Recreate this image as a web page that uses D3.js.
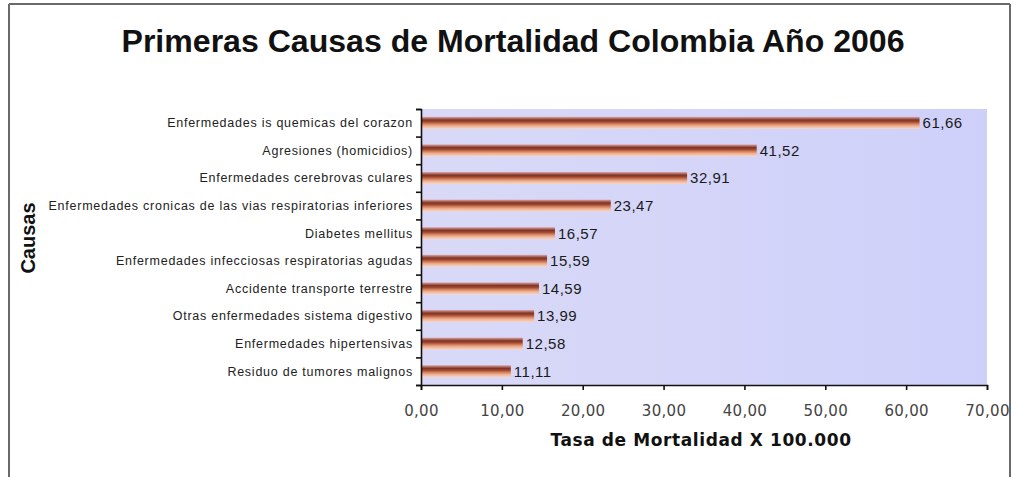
<!DOCTYPE html>
<html>
<head>
<meta charset="utf-8">
<script src="https://cdn.jsdelivr.net/npm/d3@7"></script>
<style>
  html, body { margin: 0; padding: 0; background: #fff; }
  svg { display: block; }
</style>
</head>
<body>
<div id="chart"></div>
<script>
const categories = [
  "Enfermedades is quemicas del corazon",
  "Agresiones (homicidios)",
  "Enfermedades cerebrovas culares",
  "Enfermedades cronicas de las vias respiratorias inferiores",
  "Diabetes mellitus",
  "Enfermedades infecciosas respiratorias agudas",
  "Accidente transporte terrestre",
  "Otras enfermedades sistema digestivo",
  "Enfermedades hipertensivas",
  "Residuo de tumores malignos"
];
const values = [61.66, 41.52, 32.91, 23.47, 16.57, 15.59, 14.59, 13.99, 12.58, 11.11];
const xTicks = [0, 10, 20, 30, 40, 50, 60, 70];
const title = "Primeras Causas de Mortalidad Colombia Año 2006";
const xTitle = "Tasa de Mortalidad X 100.000";
const yTitle = "Causas";

const W = 1013, H = 477;
const plot = { left: 421, right: 987, top: 109, bottom: 385 };

const svg = d3.select("#chart").append("svg").attr("width", W).attr("height", H);
const defs = svg.append("defs");

const bg = defs.append("linearGradient").attr("id", "bg").attr("x1", 0).attr("x2", 1).attr("y1", 0).attr("y2", 0);
bg.append("stop").attr("offset", 0).attr("stop-color", "#d9d9f7");
bg.append("stop").attr("offset", 1).attr("stop-color", "#cfd0fa");

const bar = defs.append("linearGradient").attr("id", "bar").attr("x1", 0).attr("x2", 0).attr("y1", 0).attr("y2", 1);
[[0, "#dcb0bc"], [0.12, "#b57468"], [0.27, "#7e3426"], [0.42, "#a0472f"], [0.58, "#d07c5a"], [0.76, "#edb194"], [1, "#f7d8c8"]]
  .forEach(([o, c]) => bar.append("stop").attr("offset", o).attr("stop-color", c));

// outer frame
svg.append("line").attr("x1", 9).attr("x2", 9).attr("y1", 4).attr("y2", H).attr("stroke", "#6a6a6a").attr("stroke-width", 2);
svg.append("line").attr("x1", 1010).attr("x2", 1010).attr("y1", 4).attr("y2", H).attr("stroke", "#6a6a6a").attr("stroke-width", 2);
svg.append("line").attr("x1", 9).attr("x2", 1010).attr("y1", 4).attr("y2", 4).attr("stroke", "#6a6a6a").attr("stroke-width", 2);

const x = d3.scaleLinear().domain([0, 70]).range([plot.left, plot.right]);
const y = d3.scaleBand().domain(categories).range([plot.top, plot.bottom]).paddingInner(0.56).paddingOuter(0.28);

svg.append("rect").attr("x", plot.left).attr("y", plot.top)
  .attr("width", plot.right - plot.left).attr("height", plot.bottom - plot.top).attr("fill", "url(#bg)");

svg.selectAll("rect.bar").data(values).join("rect").attr("class", "bar")
  .attr("x", x(0)).attr("y", (d, i) => y(categories[i]))
  .attr("width", d => x(d) - x(0)).attr("height", y.bandwidth())
  .attr("fill", "url(#bar)");

const fmt = v => v.toFixed(2).replace(".", ",");

svg.selectAll("text.val").data(values).join("text").attr("class", "val")
  .attr("x", d => x(d) + 3).attr("y", (d, i) => y(categories[i]) + y.bandwidth() / 2)
  .attr("dy", "0.36em")
  .attr("font-family", "Liberation Sans, Arial, sans-serif").attr("font-size", 15)
  .attr("letter-spacing", 0.5).attr("fill", "#1a1a1a")
  .text(fmt);

// y axis with ticks at category boundaries
const yb = d3.scaleLinear().domain([0, categories.length]).range([plot.top, plot.bottom]);
const yAxis = d3.axisLeft(yb).tickValues(d3.range(0, categories.length + 1)).tickSize(5).tickFormat("");
const ya = svg.append("g").attr("transform", `translate(${plot.left},0)`).call(yAxis);
ya.selectAll("path, line").attr("stroke", "#111").attr("stroke-width", 1.6);

svg.selectAll("text.cat").data(categories).join("text").attr("class", "cat")
  .attr("x", plot.left - 8).attr("y", d => y(d) + y.bandwidth() / 2)
  .attr("dy", "0.35em").attr("text-anchor", "end")
  .attr("font-family", "Liberation Sans, Arial, sans-serif").attr("font-size", 12.5)
  .attr("letter-spacing", 0.75).attr("fill", "#222")
  .text(d => d);

const xAxis = d3.axisBottom(x).tickValues(xTicks).tickSize(5).tickFormat(fmt);
const xa = svg.append("g").attr("transform", `translate(0,${plot.bottom})`).call(xAxis);
xa.selectAll("path, line").attr("stroke", "#111").attr("stroke-width", 1.6);
xa.selectAll("text").attr("font-family", "DejaVu Sans, Verdana, sans-serif").attr("font-size", 15)
  .attr("letter-spacing", 0.3).attr("fill", "#444").attr("dy", "1.55em");

svg.append("text").attr("x", 513).attr("y", 52).attr("text-anchor", "middle")
  .attr("font-family", "Liberation Sans, Arial, sans-serif").attr("font-weight", "bold")
  .attr("font-size", 31).attr("fill", "#111")
  .attr("textLength", 783).attr("lengthAdjust", "spacingAndGlyphs").text(title);

svg.append("text").attr("x", 701).attr("y", 446).attr("text-anchor", "middle")
  .attr("font-family", "DejaVu Sans, Verdana, sans-serif").attr("font-weight", "bold")
  .attr("font-size", 17).attr("letter-spacing", 0.6).attr("fill", "#111").text(xTitle);

svg.append("text").attr("transform", "translate(35,238) rotate(-90)").attr("text-anchor", "middle")
  .attr("font-family", "Liberation Sans, Arial, sans-serif").attr("font-weight", "bold")
  .attr("font-size", 20).attr("fill", "#111").text(yTitle);
</script>
</body>
</html>
